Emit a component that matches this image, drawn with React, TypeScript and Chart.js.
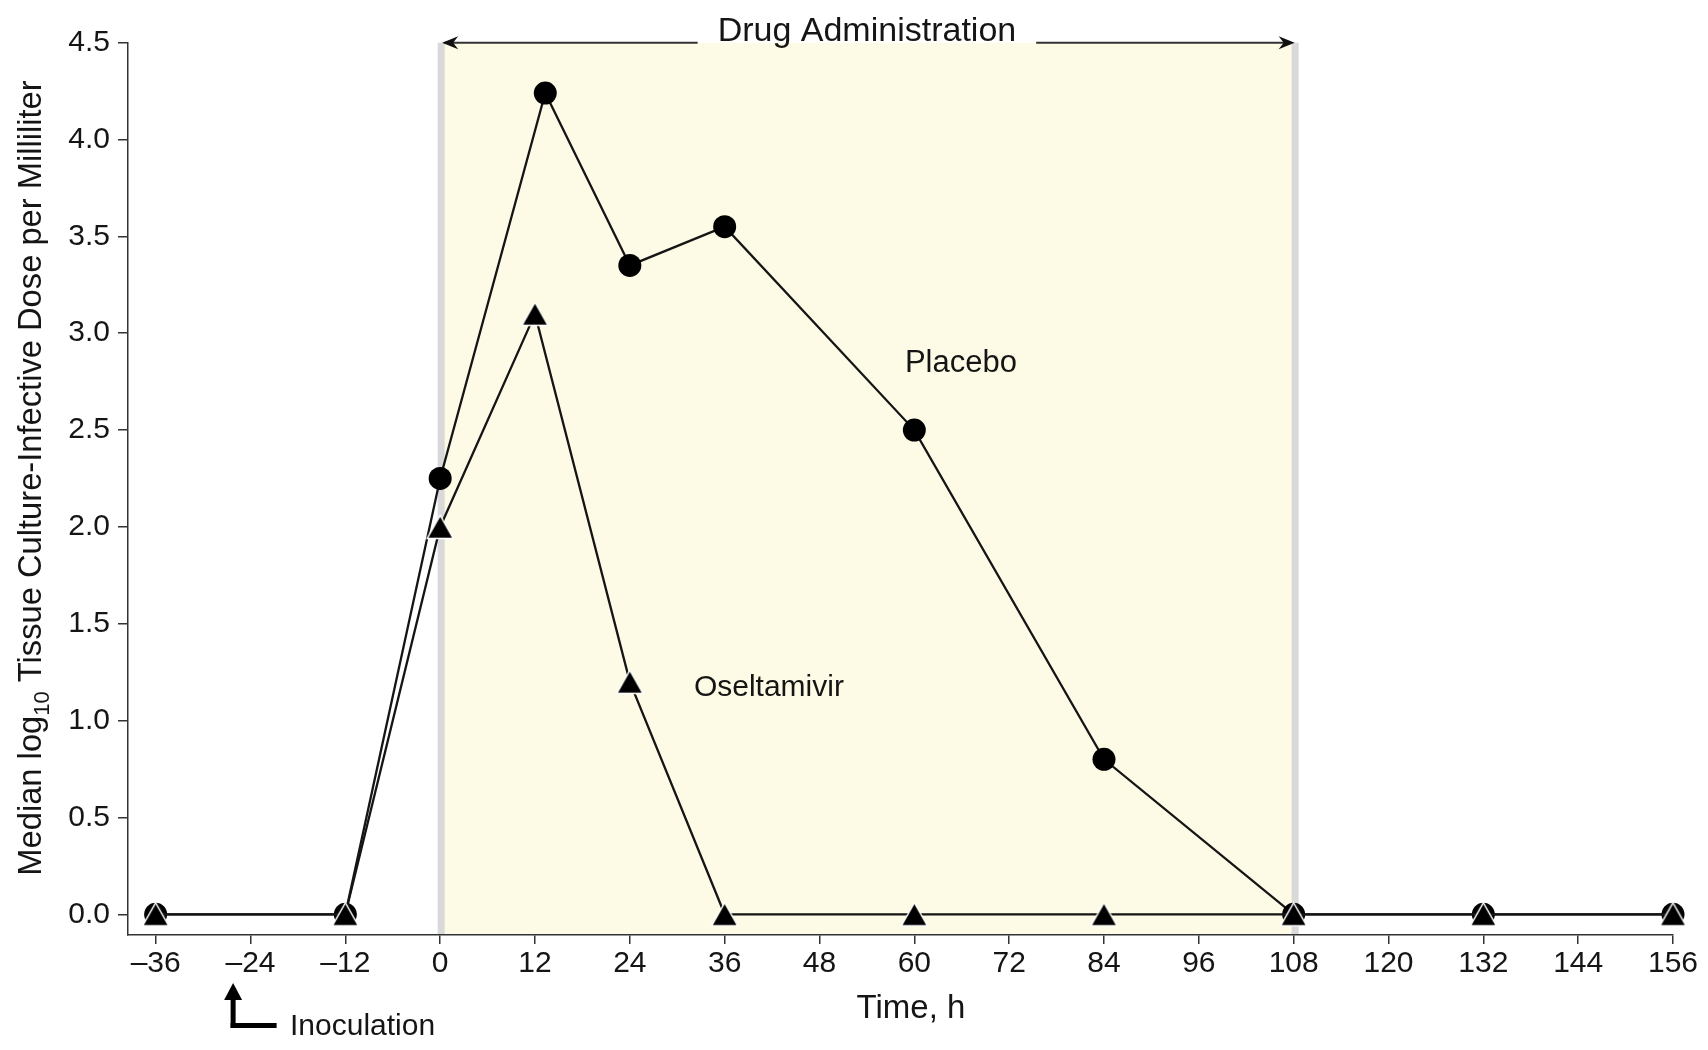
import React, { useEffect, useRef } from 'react';
import { Chart, registerables } from 'chart.js';

Chart.register(...registerables);

// ---- data ----
const placeboHours = [-36, -12, 0, 13.3, 24, 36, 60, 84, 108, 132, 156];
const placeboValues = [0, 0, 2.25, 4.24, 3.35, 3.55, 2.5, 0.8, 0, 0, 0];
const oseltamivirHours = [-36, -12, 0, 12, 24, 36, 60, 84, 108, 132, 156];
const oseltamivirValues = [0, 0, 2.0, 3.1, 1.2, 0, 0, 0, 0, 0, 0];
const xTickValues = [-36, -24, -12, 0, 12, 24, 36, 48, 60, 72, 84, 96, 108, 120, 132, 144, 156];
const yTickValues = [0, 0.5, 1, 1.5, 2, 2.5, 3, 3.5, 4, 4.5];
const drugStart = 0;
const drugEnd = 108;

const FONT = "'Liberation Sans', Arial, Helvetica, sans-serif";
const INK = '#151515';

function makeTriangle(): HTMLCanvasElement {
  const c = document.createElement('canvas');
  const w = 29, h = 26;
  c.width = w; c.height = h;
  const g = c.getContext('2d')!;
  g.beginPath();
  g.moveTo(w / 2, 1.5);
  g.lineTo(w - 1.5, h - 1.5);
  g.lineTo(1.5, h - 1.5);
  g.closePath();
  g.fillStyle = '#000';
  g.fill();
  g.lineWidth = 1.5;
  g.strokeStyle = '#ffffff';
  g.stroke();
  return c;
}

function arrowHead(ctx: CanvasRenderingContext2D, tipX: number, y: number, dir: number) {
  const L = 16, H = 6.5, notch = 5;
  ctx.beginPath();
  ctx.moveTo(tipX, y);
  ctx.lineTo(tipX - dir * L, y - H);
  ctx.lineTo(tipX - dir * (L - notch), y);
  ctx.lineTo(tipX - dir * L, y + H);
  ctx.closePath();
  ctx.fill();
}

const backgroundPlugin = {
  id: 'drugBand',
  beforeDraw(chart: any) {
    const { ctx, chartArea, scales } = chart;
    const xs = scales.x;
    const x0 = xs.getPixelForValue(drugStart);
    const x1 = xs.getPixelForValue(drugEnd);
    ctx.save();
    ctx.fillStyle = '#fdfbe6';
    ctx.fillRect(x0, chartArea.top, x1 - x0, chartArea.bottom - chartArea.top);
    ctx.fillStyle = '#d9d9d9';
    ctx.fillRect(x0 - 2.5, chartArea.top, 7, chartArea.bottom - chartArea.top);
    ctx.fillRect(x1 - 2, chartArea.top, 7, chartArea.bottom - chartArea.top);
    ctx.restore();
  },
  afterDraw(chart: any) {
    const { ctx, chartArea, scales } = chart;
    const xs = scales.x;
    const ys = scales.y;
    const x0 = xs.getPixelForValue(drugStart);
    const x1 = xs.getPixelForValue(drugEnd);
    const top = chartArea.top;
    ctx.save();

    // Drug Administration arrow + label
    ctx.font = `34px ${FONT}`;
    const label = 'Drug Administration';
    const tw = ctx.measureText(label).width;
    const cx = (x0 + x1) / 2;
    ctx.strokeStyle = '#333';
    ctx.lineWidth = 2;
    ctx.beginPath();
    ctx.moveTo(x0 + 4, top);
    ctx.lineTo(cx - tw / 2 - 20, top);
    ctx.moveTo(cx + tw / 2 + 20, top);
    ctx.lineTo(x1 - 4, top);
    ctx.stroke();
    ctx.fillStyle = '#111';
    arrowHead(ctx, x0 + 2, top, -1);
    arrowHead(ctx, x1 + 1, top, 1);
    ctx.fillStyle = INK;
    ctx.textAlign = 'center';
    ctx.textBaseline = 'alphabetic';
    ctx.fillText(label, cx, top - 2);

    // series labels
    ctx.font = `31px ${FONT}`;
    ctx.textBaseline = 'middle';
    ctx.fillText('Placebo', xs.getPixelForValue(65.9), ys.getPixelForValue(2.846));
    ctx.font = `30px ${FONT}`;
    ctx.fillText('Oseltamivir', xs.getPixelForValue(41.6), ys.getPixelForValue(1.168));

    // x title
    ctx.font = `33px ${FONT}`;
    ctx.fillText('Time, h', 911, 1009);

    // Inoculation marker
    const ax = xs.getPixelForValue(-26.2);
    ctx.fillStyle = '#000';
    ctx.beginPath();
    ctx.moveTo(ax, 983);
    ctx.lineTo(ax + 9, 1000);
    ctx.lineTo(ax - 9, 1000);
    ctx.closePath();
    ctx.fill();
    ctx.fillRect(ax - 2.5, 998, 5, 30);
    ctx.fillRect(ax - 2.5, 1023, 46, 5);
    ctx.fillStyle = INK;
    ctx.font = `30px ${FONT}`;
    ctx.textAlign = 'left';
    ctx.fillText('Inoculation', 290, 1027);

    // y title with subscript
    ctx.translate(30, 478);
    ctx.rotate(-Math.PI / 2);
    const mainFont = `32.7px ${FONT}`;
    const subFont = `22px ${FONT}`;
    const p1 = 'Median log';
    const p2 = '10';
    const p3 = ' Tissue Culture-Infective Dose per Milliliter';
    ctx.font = mainFont;
    const w1 = ctx.measureText(p1).width;
    const w3 = ctx.measureText(p3).width;
    ctx.font = subFont;
    const w2 = ctx.measureText(p2).width;
    let sx = -(w1 + w2 + w3) / 2;
    ctx.textAlign = 'left';
    ctx.textBaseline = 'alphabetic';
    ctx.font = mainFont;
    ctx.fillText(p1, sx, 11);
    sx += w1;
    ctx.font = subFont;
    ctx.fillText(p2, sx, 19);
    sx += w2;
    ctx.font = mainFont;
    ctx.fillText(p3, sx, 11);
    ctx.restore();
  },
};

export default function App() {
  const ref = useRef<HTMLCanvasElement | null>(null);
  useEffect(() => {
    if (!ref.current) return;
    const tri = makeTriangle();
    const chart = new Chart(ref.current, {
      type: 'line',
      data: {
        datasets: [
          {
            label: 'Placebo',
            data: placeboHours.map((h, i) => ({ x: h, y: placeboValues[i] })),
            borderColor: '#151515',
            borderWidth: 2.3,
            pointStyle: 'circle',
            pointRadius: 11.5,
            pointBackgroundColor: '#000',
            pointBorderWidth: 0,
            pointBorderColor: '#000',
            tension: 0,
            clip: false,
            order: 1,
          },
          {
            label: 'Oseltamivir',
            data: oseltamivirHours.map((h, i) => ({ x: h, y: oseltamivirValues[i] })),
            borderColor: '#151515',
            borderWidth: 2.3,
            pointStyle: tri as any,
            pointRadius: 13,
            pointBackgroundColor: '#000',
            pointBorderWidth: 0,
            tension: 0,
            clip: false,
            order: 0,
          },
        ],
      },
      options: {
        responsive: false,
        animation: false,
        devicePixelRatio: 1,
        layout: { padding: { left: 0, right: 35, top: 42.7, bottom: 55 } },
        plugins: {
          legend: { display: false },
          tooltip: { enabled: false },
          title: { display: false },
        },
        scales: {
          x: {
            type: 'linear',
            min: -39.5,
            max: 156,
            afterBuildTicks: (s: any) => {
              s.ticks = xTickValues.map((v) => ({ value: v }));
            },
            afterFit: (s: any) => {
              s.height = 60;
            },
            grid: {
              display: true,
              drawOnChartArea: false,
              drawTicks: true,
              tickLength: 9,
              color: '#333',
              lineWidth: 1.5,
            },
            border: { display: true, color: '#333', width: 1.5 },
            ticks: {
              autoSkip: false,
              maxRotation: 0,
              padding: 2,
              color: INK,
              font: { family: FONT, size: 30 },
              callback: (v: any) => (Number(v) < 0 ? '\u2013' + Math.abs(Number(v)) : String(v)),
            },
          },
          y: {
            type: 'linear',
            min: -0.107,
            max: 4.5,
            afterBuildTicks: (s: any) => {
              s.ticks = yTickValues.map((v) => ({ value: v }));
            },
            afterFit: (s: any) => {
              s.width = 128;
            },
            grid: {
              display: true,
              drawOnChartArea: false,
              drawTicks: true,
              tickLength: 10,
              color: '#333',
              lineWidth: 1.5,
            },
            border: { display: true, color: '#333', width: 1.5 },
            ticks: {
              autoSkip: false,
              padding: 8,
              color: INK,
              font: { family: FONT, size: 30 },
              callback: (v: any) => Number(v).toFixed(1),
            },
          },
        },
      },
      plugins: [backgroundPlugin],
    } as any);
    return () => chart.destroy();
  }, []);

  return (
    <div style={{ position: 'absolute', left: 0, top: 0, width: 1708, height: 1050, background: '#fff' }}>
      <canvas ref={ref} width={1708} height={1050} style={{ width: 1708, height: 1050, display: 'block' }} />
    </div>
  );
}
